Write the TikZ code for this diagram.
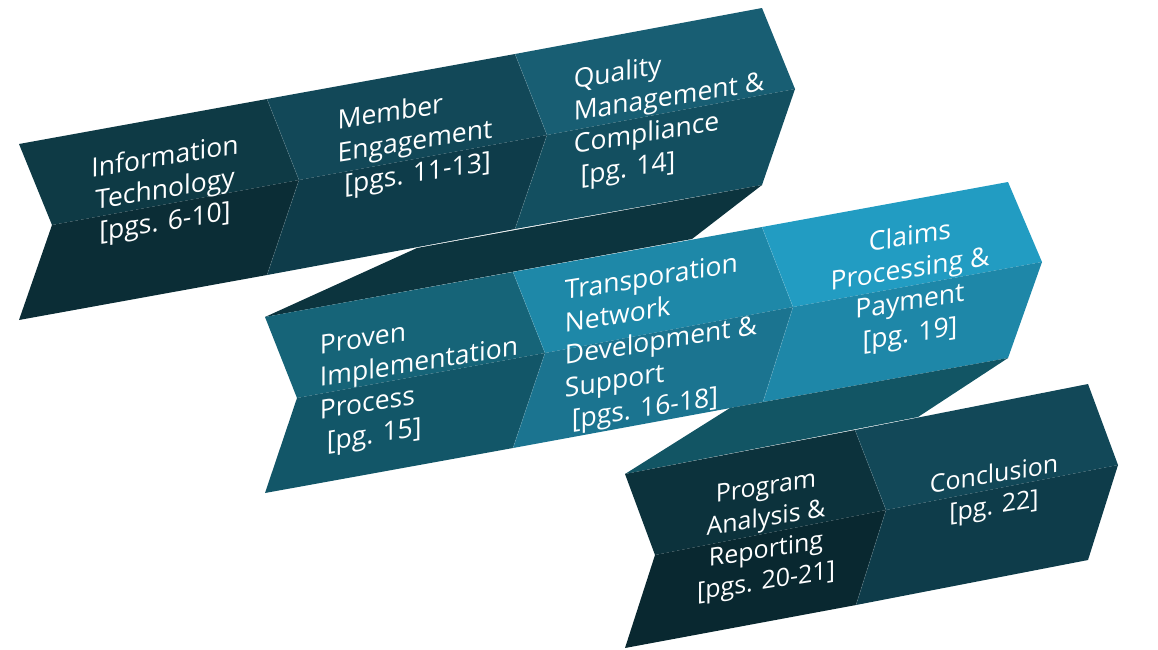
\documentclass[tikz,border=0pt]{standalone}
\usepackage{fontspec}
\setmainfont{Open Sans}
\definecolor{itU}{HTML}{0E3A45}
\definecolor{itL}{HTML}{0B2D36}
\definecolor{meU}{HTML}{124858}
\definecolor{meL}{HTML}{0E3C4A}
\definecolor{quU}{HTML}{185E73}
\definecolor{quL}{HTML}{134F60}
\definecolor{foldA}{HTML}{0C343E}
\definecolor{prU}{HTML}{166478}
\definecolor{prL}{HTML}{125668}
\definecolor{trU}{HTML}{1E88A8}
\definecolor{trL}{HTML}{1B7490}
\definecolor{clU}{HTML}{229CC2}
\definecolor{clL}{HTML}{1E87A8}
\definecolor{foldB}{HTML}{125564}
\definecolor{pgU}{HTML}{0C323C}
\definecolor{pgL}{HTML}{092830}
\definecolor{coU}{HTML}{124858}
\definecolor{coL}{HTML}{0E3C4A}
\begin{document}
\begin{tikzpicture}[x=1pt,y=-1pt,
  lbl/.style={text=white, inner sep=0pt, transform shape},
  bigtxt/.style={font=\fontsize{26.5}{32.5}\selectfont},
  smalltxt/.style={font=\fontsize{25}{31.5}\selectfont},
  seam/.style={draw=white, draw opacity=0.15, line width=0.6pt}]
\useasboundingbox (0,0) rectangle (1158,649);
% ---------- row 1 ----------
\fill[itU] (19,144) -- (267,99) -- (299,180) -- (52,225) -- cycle;
\fill[itL] (52,225) -- (299,180) -- (267,275) -- (19,320) -- cycle;
\fill[meU] (267,99) -- (515,54) -- (547,135) -- (299,180) -- cycle;
\fill[meL] (299,180) -- (547,135) -- (515,229) -- (267,275) -- cycle;
\fill[quU] (515,54) -- (762,8) -- (795,89) -- (547,135) -- cycle;
\fill[quL] (547,135) -- (795,89) -- (762,185) -- (515,229) -- cycle;
\path[seam] (267,99) -- (299,180) -- (267,275);
\path[seam] (515,54) -- (547,135) -- (515,229);
% fold 1
\fill[foldA] (417,248) -- (762,185) -- (692,239) -- (265,317) -- cycle;
% ---------- row 2 ----------
\fill[prU] (265,317) -- (513,272) -- (545,353) -- (297,398) -- cycle;
\fill[prL] (297,398) -- (545,353) -- (513,448) -- (265,493) -- cycle;
\fill[trU] (513,272) -- (762,227) -- (793,307) -- (545,353) -- cycle;
\fill[trL] (545,353) -- (793,307) -- (763,402) -- (513,448) -- cycle;
\fill[clU] (762,227) -- (1008,182) -- (1042,262) -- (793,307) -- cycle;
\fill[clL] (793,307) -- (1042,262) -- (1008,358) -- (763,402) -- cycle;
\path[seam] (513,272) -- (545,353) -- (513,448);
\path[seam] (762,227) -- (793,307) -- (763,402);
% fold 2
\fill[foldB] (730,408) -- (1008,358) -- (918,417) -- (625,474) -- cycle;
% ---------- row 3 ----------
\fill[pgU] (625,474) -- (855,430) -- (886,510) -- (655,555) -- cycle;
\fill[pgL] (655,555) -- (886,510) -- (856,605) -- (625,648) -- cycle;
\fill[coU] (855,430) -- (1088,384) -- (1118,465) -- (886,510) -- cycle;
\fill[coL] (886,510) -- (1118,465) -- (1088,560) -- (856,605) -- cycle;
\path[seam] (855,430) -- (886,510) -- (856,605);
% ---------- labels ----------
\begin{scope}[shift={(165,191)}, yslant=0.16]
\node[lbl, bigtxt, align=center] (t1) at (0,0) {Information\\Technology\\{[}pgs. 6-10]};
\end{scope}
\begin{scope}[shift={(415,143)}, yslant=0.16]
\node[lbl, bigtxt, align=left] (t2) at (0,0) {Member\\Engagement\\\ {[}pgs. 11-13]};
\end{scope}
\begin{scope}[shift={(669,115)}, yslant=0.16]
\node[lbl, bigtxt, align=left] (t3) at (0,0) {Quality\\Management \&\\Compliance\\\ {[}pg. 14]};
\end{scope}
\begin{scope}[shift={(419,381)}, yslant=0.16]
\node[lbl, bigtxt, align=left] (t4) at (0,0) {Proven\\Implementation\\Process\\\ {[}pg. 15]};
\end{scope}
\begin{scope}[shift={(661,343)}, yslant=0.16]
\node[lbl, bigtxt, align=left] (t5) at (0,0) {Transporation\\Network\\Development \&\\Support\\\ {[}pgs. 16-18]};
\end{scope}
\begin{scope}[shift={(910,287)}, yslant=0.16]
\node[lbl, bigtxt, align=center] (t6) at (0,0) {Claims\\Processing \&\\Payment\\{[}pg. 19]};
\end{scope}
\begin{scope}[shift={(766,536)}, yslant=0.16]
\node[lbl, smalltxt, align=center] (t7) at (0,0) {Program\\Analysis \&\\Reporting\\{[}pgs. 20-21]};
\end{scope}
\begin{scope}[shift={(994,492)}, yslant=0.16]
\node[lbl, smalltxt, align=center] (t8) at (0,0) {Conclusion\\{[}pg. 22]};
\end{scope}
\end{tikzpicture}
\end{document}
